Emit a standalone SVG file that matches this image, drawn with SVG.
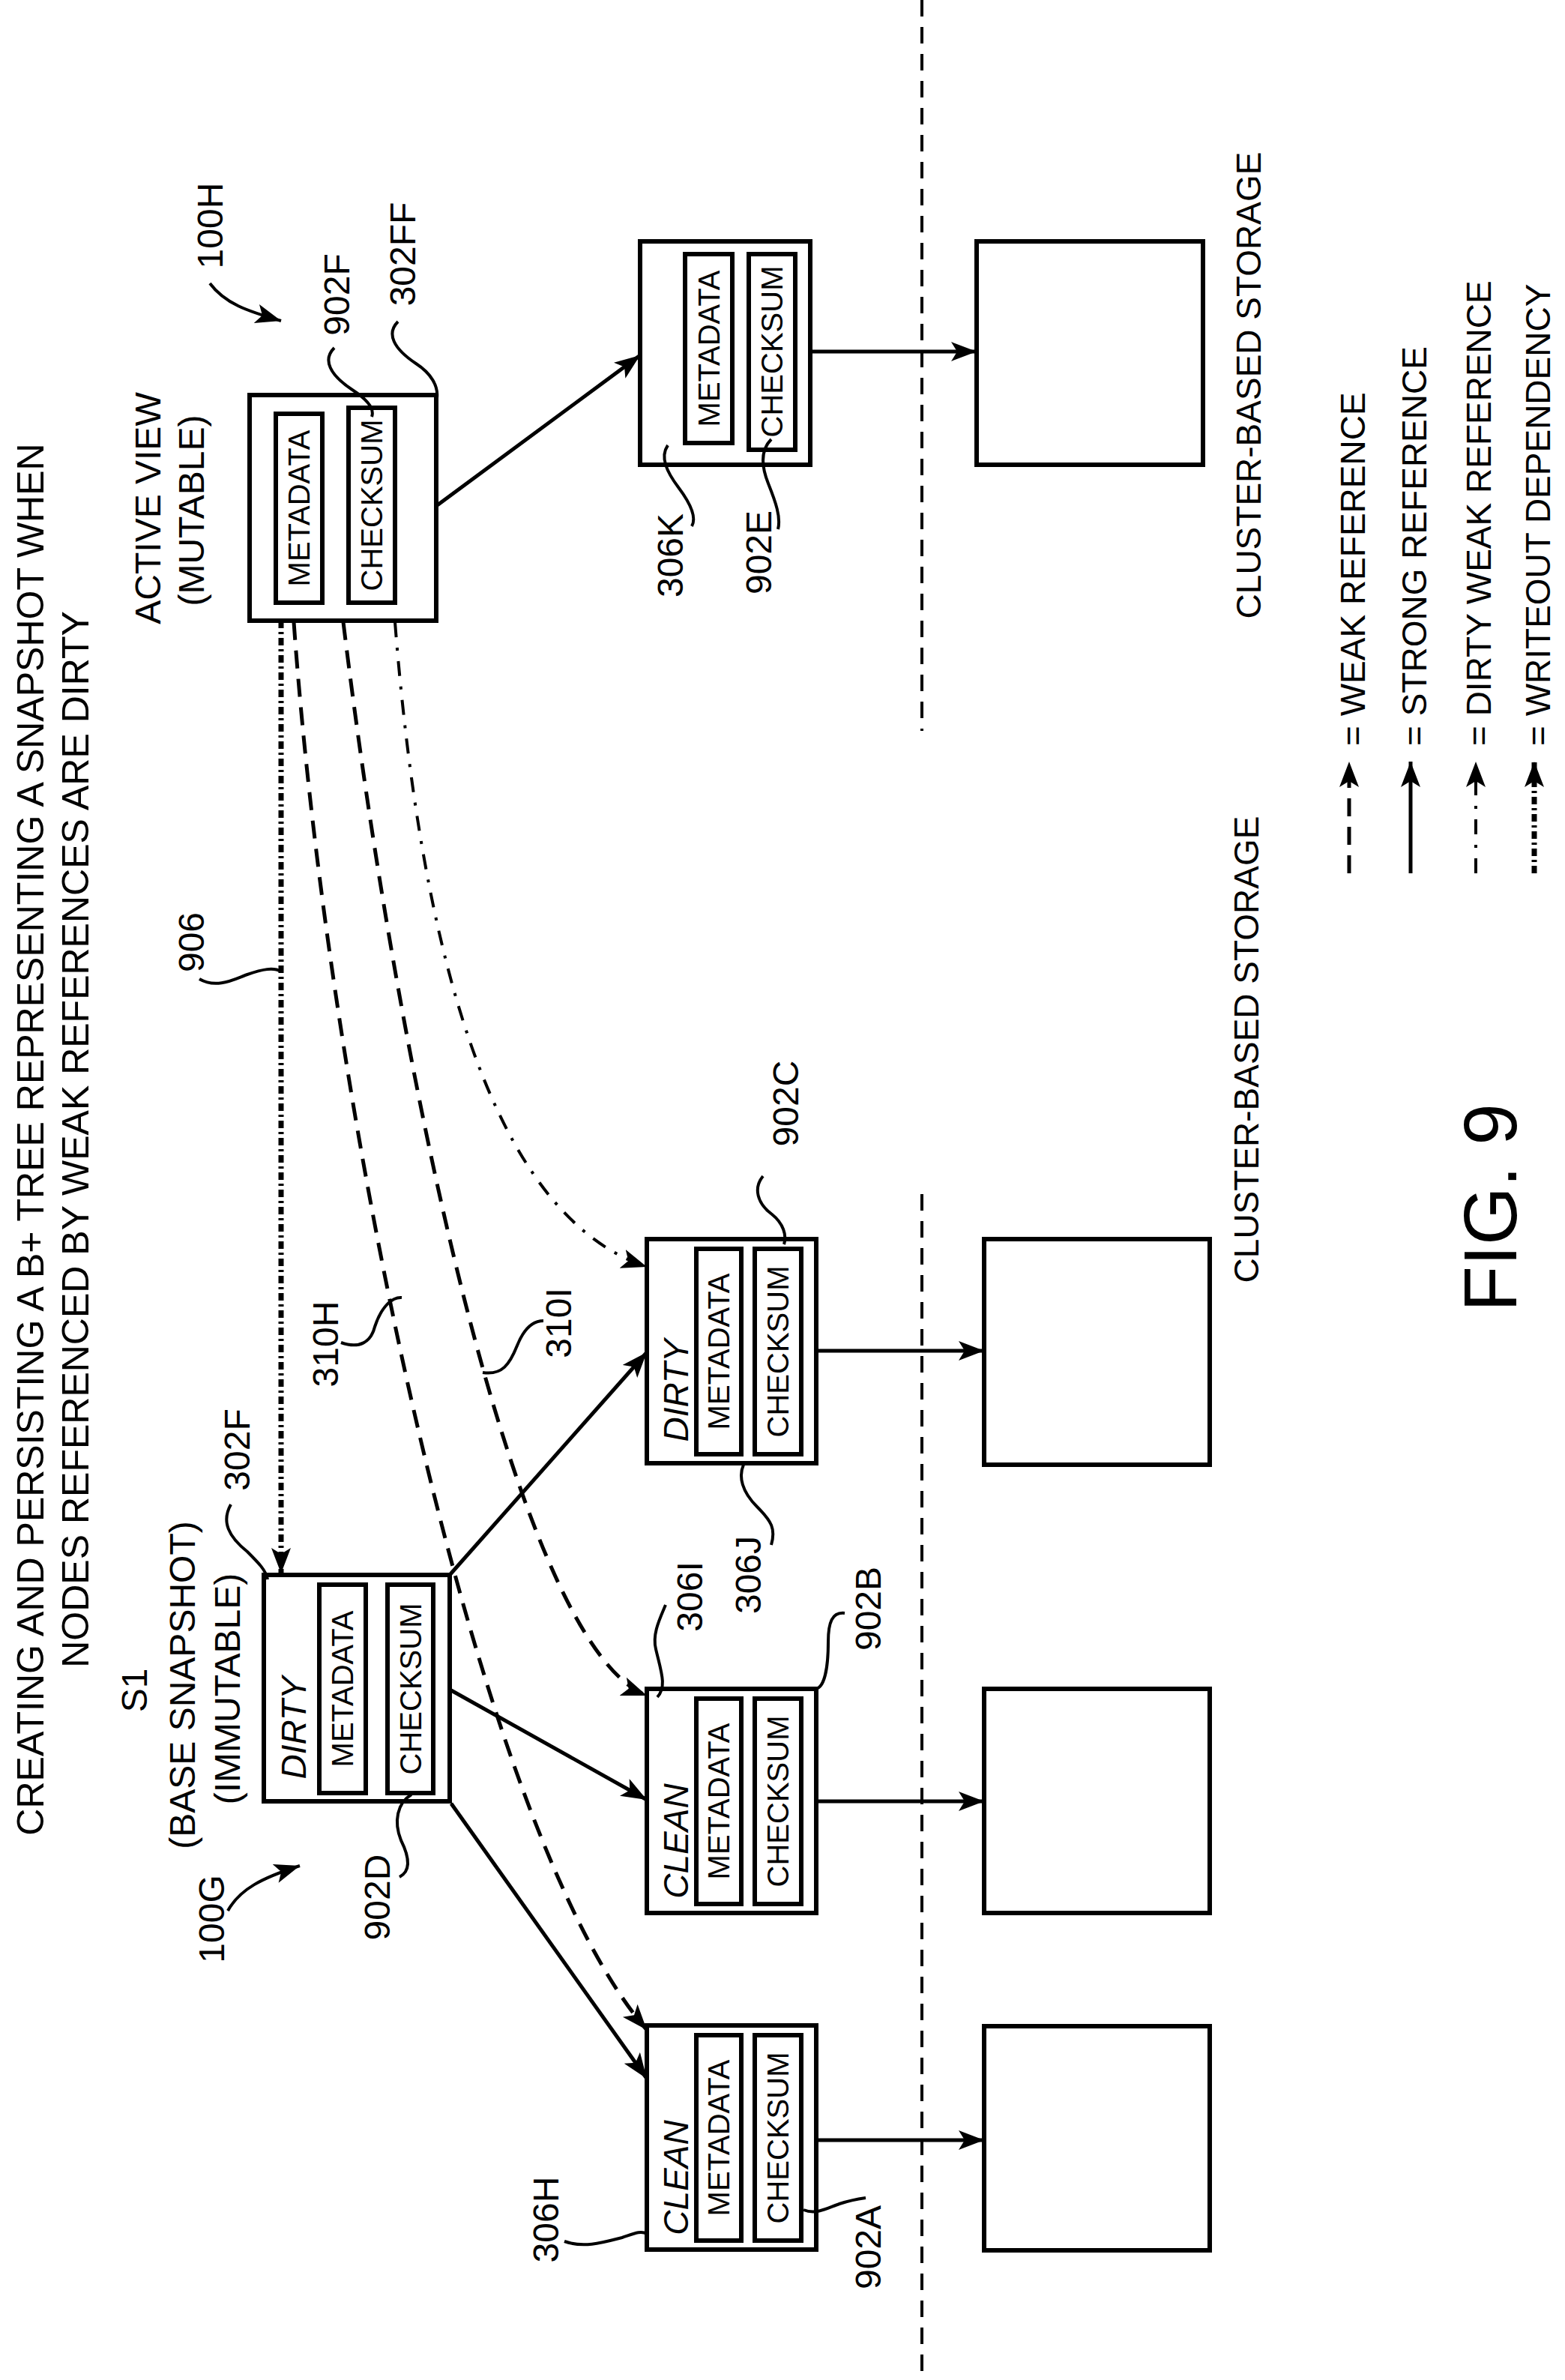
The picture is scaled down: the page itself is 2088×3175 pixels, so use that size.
<svg xmlns="http://www.w3.org/2000/svg" width="2088" height="3175" viewBox="0 0 2088 3175">
<style>
text{font-family:"Liberation Sans",Arial,sans-serif;fill:#000}
.box{fill:#fff;stroke:#000;stroke-width:6}
.inner{fill:#fff;stroke:#000;stroke-width:6}
.in{font-size:40px;text-anchor:middle}
.lbl{font-size:48px;text-anchor:middle}
.st{font-size:46px;font-style:italic;text-anchor:middle}
.strong{fill:none;stroke:#000;stroke-width:5}
.weak{fill:none;stroke:#000;stroke-width:5;stroke-dasharray:24 14}
.dirty{fill:none;stroke:#000;stroke-width:4;stroke-dasharray:20 14 4 14}
.wo{fill:none;stroke:#000;stroke-width:7;stroke-dasharray:10 5 3 5}
.lead{fill:none;stroke:#000;stroke-width:4}
.sep{fill:none;stroke:#000;stroke-width:4;stroke-dasharray:22 14}
</style>
<defs>
<marker id="ah" markerUnits="userSpaceOnUse" markerWidth="40" markerHeight="30" refX="34" refY="13" orient="auto"><path d="M0,0 L34,13 L0,26 L8,13 Z" fill="#000"/></marker>
</defs>

<!-- title -->
<g id="title">
<text font-size="50" text-anchor="middle" transform="translate(58,1520) rotate(-90)">CREATING AND PERSISTING A B+ TREE REPRESENTING A SNAPSHOT WHEN</text>
<text font-size="50" text-anchor="middle" transform="translate(118,1520) rotate(-90)">NODES REFERENCED BY WEAK REFERENCES ARE DIRTY</text>
</g>

<!-- separators -->
<g id="separators">
<line class="sep" x1="1230" y1="0" x2="1230" y2="975"/>
<line class="sep" x1="1230" y1="1593" x2="1230" y2="3175"/>
</g>

<!-- connectors -->
<g id="connectors">
<line class="strong" x1="582" y1="675" x2="854" y2="474" marker-end="url(#ah)"/>
<line class="strong" x1="600" y1="2101" x2="863" y2="1804" marker-end="url(#ah)"/>
<line class="strong" x1="602" y1="2255" x2="863" y2="2401" marker-end="url(#ah)"/>
<line class="strong" x1="602" y1="2406" x2="863" y2="2773" marker-end="url(#ah)"/>
<line class="strong" x1="1081" y1="469" x2="1303" y2="469" marker-end="url(#ah)"/>
<line class="strong" x1="1089" y1="1802" x2="1313" y2="1802" marker-end="url(#ah)"/>
<line class="strong" x1="1089" y1="2403" x2="1313" y2="2403" marker-end="url(#ah)"/>
<line class="strong" x1="1089" y1="2855" x2="1313" y2="2855" marker-end="url(#ah)"/>
<path class="wo" d="M375,828 L375,2099" marker-end="url(#ah)"/>
<path class="weak" d="M392,830 C440,1500 640,2450 863,2708" marker-end="url(#ah)"/>
<path class="weak" d="M458,830 C540,1500 700,2200 863,2262" marker-end="url(#ah)"/>
<path class="dirty" d="M527,830 C560,1250 650,1620 863,1690" marker-end="url(#ah)"/>
</g>

<!-- active view -->
<g id="active-view">
<rect class="box" x="333" y="527" width="249" height="301"/>
<rect class="inner" x="368" y="552" width="62" height="252"/>
<rect class="inner" x="465" y="544" width="62" height="260"/>
<text class="in" transform="translate(413,678) rotate(-90)">METADATA</text>
<text class="in" transform="translate(510,674) rotate(-90)">CHECKSUM</text>
<text class="lbl" transform="translate(214,678) rotate(-90)">ACTIVE VIEW</text>
<text class="lbl" transform="translate(272,681) rotate(-90)">(MUTABLE)</text>
</g>

<!-- S1 -->
<g id="s1">
<rect class="box" x="352" y="2101" width="248" height="302"/>
<rect class="inner" x="426" y="2114" width="62" height="278"/>
<rect class="inner" x="517" y="2114" width="61" height="278"/>
<text class="in" transform="translate(471,2253) rotate(-90)">METADATA</text>
<text class="in" transform="translate(562,2253) rotate(-90)">CHECKSUM</text>
<text class="st" transform="translate(408,2305) rotate(-90)">DIRTY</text>
<text class="lbl" transform="translate(196,2255) rotate(-90)">S1</text>
<text class="lbl" transform="translate(260,2248) rotate(-90)">(BASE SNAPSHOT)</text>
<text class="lbl" transform="translate(320,2253) rotate(-90)">(IMMUTABLE)</text>
</g>

<!-- 306K -->
<g id="n306k">
<rect class="box" x="854" y="322" width="227" height="298"/>
<rect class="inner" x="914" y="339" width="63" height="252"/>
<rect class="inner" x="999" y="339" width="62" height="261"/>
<text class="in" transform="translate(960,465) rotate(-90)">METADATA</text>
<text class="in" transform="translate(1044,469) rotate(-90)">CHECKSUM</text>
</g>

<!-- 306J -->
<g id="n306j">
<rect class="box" x="863" y="1653" width="226" height="299"/>
<rect class="inner" x="929" y="1666" width="60" height="274"/>
<rect class="inner" x="1007" y="1666" width="62" height="274"/>
<text class="in" transform="translate(973,1803) rotate(-90)">METADATA</text>
<text class="in" transform="translate(1052,1803) rotate(-90)">CHECKSUM</text>
<text class="st" transform="translate(918,1855) rotate(-90)">DIRTY</text>
</g>

<!-- 306I -->
<g id="n306i">
<rect class="box" x="863" y="2253" width="226" height="299"/>
<rect class="inner" x="929" y="2266" width="60" height="274"/>
<rect class="inner" x="1007" y="2266" width="62" height="274"/>
<text class="in" transform="translate(973,2403) rotate(-90)">METADATA</text>
<text class="in" transform="translate(1052,2403) rotate(-90)">CHECKSUM</text>
<text class="st" transform="translate(918,2456) rotate(-90)">CLEAN</text>
</g>

<!-- 306H -->
<g id="n306h">
<rect class="box" x="863" y="2702" width="226" height="299"/>
<rect class="inner" x="929" y="2715" width="60" height="274"/>
<rect class="inner" x="1007" y="2715" width="62" height="274"/>
<text class="in" transform="translate(973,2852) rotate(-90)">METADATA</text>
<text class="in" transform="translate(1052,2852) rotate(-90)">CHECKSUM</text>
<text class="st" transform="translate(918,2905) rotate(-90)">CLEAN</text>
</g>

<!-- storage -->
<g id="storage-top"><rect class="box" x="1303" y="322" width="302" height="298"/></g>
<g id="storage-1"><rect class="box" x="1313" y="1653" width="301" height="301"/></g>
<g id="storage-2"><rect class="box" x="1313" y="2253" width="301" height="299"/></g>
<g id="storage-3"><rect class="box" x="1313" y="2703" width="301" height="299"/></g>
<g id="storage-labels">
<text font-size="46" text-anchor="middle" transform="translate(1682,514) rotate(-90)">CLUSTER-BASED STORAGE</text>
<text font-size="46" text-anchor="middle" transform="translate(1679,1400) rotate(-90)">CLUSTER-BASED STORAGE</text>
</g>

<!-- reference labels and leaders -->
<g id="labels">
<text class="lbl" transform="translate(297,301) rotate(-90)">100H</text>
<path class="lead" d="M280,378 C300,405 330,415 375,428" marker-end="url(#ah)"/>
<text class="lbl" transform="translate(299,2560) rotate(-90)">100G</text>
<path class="lead" d="M304,2549 C320,2520 350,2505 400,2489" marker-end="url(#ah)"/>
<text class="lbl" transform="translate(466,393) rotate(-90)">902F</text>
<path class="lead" d="M446,464 C430,480 440,500 470,520 C490,533 500,545 496,556"/>
<text class="lbl" transform="translate(554,339) rotate(-90)">302FF</text>
<path class="lead" d="M531,429 C515,445 525,465 555,485 C575,498 585,515 583,531"/>
<text class="lbl" transform="translate(272,1257) rotate(-90)">906</text>
<path class="lead" d="M266,1306 C290,1320 315,1305 330,1300 C350,1293 365,1290 375,1296"/>
<text class="lbl" transform="translate(333,1934) rotate(-90)">302F</text>
<path class="lead" d="M308,2007 C295,2030 305,2050 330,2070 C345,2085 355,2095 357,2107"/>
<text class="lbl" transform="translate(451,1793) rotate(-90)">310H</text>
<path class="lead" d="M455,1791 C480,1800 495,1790 500,1770 C510,1740 525,1730 536,1731"/>
<text class="lbl" transform="translate(762,1765) rotate(-90)">310I</text>
<path class="lead" d="M644,1831 C670,1835 680,1820 690,1795 C700,1770 712,1762 725,1762"/>
<text class="lbl" transform="translate(520,2531) rotate(-90)">902D</text>
<path class="lead" d="M533,2504 C550,2495 545,2475 535,2455 C525,2430 530,2405 549,2394"/>
<text class="lbl" transform="translate(1015,2101) rotate(-90)">306J</text>
<path class="lead" d="M1029,2061 C1035,2040 1030,2030 1010,2010 C990,1990 985,1970 992,1954"/>
<text class="lbl" transform="translate(937,2130) rotate(-90)">306I</text>
<path class="lead" d="M888,2141 C880,2160 870,2180 875,2200 C882,2230 890,2250 877,2264"/>
<text class="lbl" transform="translate(1175,2146) rotate(-90)">902B</text>
<path class="lead" d="M1127,2152 C1110,2150 1105,2165 1105,2190 C1105,2225 1100,2250 1089,2253"/>
<text class="lbl" transform="translate(1065,1472) rotate(-90)">902C</text>
<path class="lead" d="M1018,1569 C1005,1585 1010,1605 1030,1620 C1045,1632 1050,1648 1046,1660"/>
<text class="lbl" transform="translate(745,2961) rotate(-90)">306H</text>
<path class="lead" d="M753,2990 C780,3000 810,2990 830,2985 C845,2980 855,2975 863,2980"/>
<text class="lbl" transform="translate(1175,2998) rotate(-90)">902A</text>
<path class="lead" d="M1072,2948 C1090,2955 1105,2945 1120,2940 C1135,2935 1148,2933 1155,2932"/>
<text class="lbl" transform="translate(911,741) rotate(-90)">306K</text>
<path class="lead" d="M891,594 C880,610 890,630 905,650 C920,670 930,690 923,702"/>
<text class="lbl" transform="translate(1029,737) rotate(-90)">902E</text>
<path class="lead" d="M1029,586 C1015,600 1015,620 1025,645 C1035,670 1042,690 1038,706"/>
</g>

<!-- legend -->
<g id="legend">
<line class="weak" x1="1800" y1="1165" x2="1800" y2="1016" stroke-dasharray="20 12" marker-end="url(#ah)"/>
<line class="strong" x1="1882" y1="1165" x2="1882" y2="1016" marker-end="url(#ah)"/>
<line class="dirty" x1="1969" y1="1165" x2="1969" y2="1016" stroke-dasharray="18 10 4 10" marker-end="url(#ah)"/>
<line class="wo" x1="2047" y1="1165" x2="2047" y2="1016" marker-end="url(#ah)"/>
<text font-size="46" transform="translate(1821,995) rotate(-90)">= WEAK REFERENCE</text>
<text font-size="46" transform="translate(1903,995) rotate(-90)">= STRONG REFERENCE</text>
<text font-size="46" transform="translate(1989,995) rotate(-90)">= DIRTY WEAK REFERENCE</text>
<text font-size="46" transform="translate(2068,995) rotate(-90)">= WRITEOUT DEPENDENCY</text>
</g>

<g id="fig"><text font-size="100" text-anchor="middle" transform="translate(2023,1611) rotate(-90)">FIG. 9</text></g>
</svg>
